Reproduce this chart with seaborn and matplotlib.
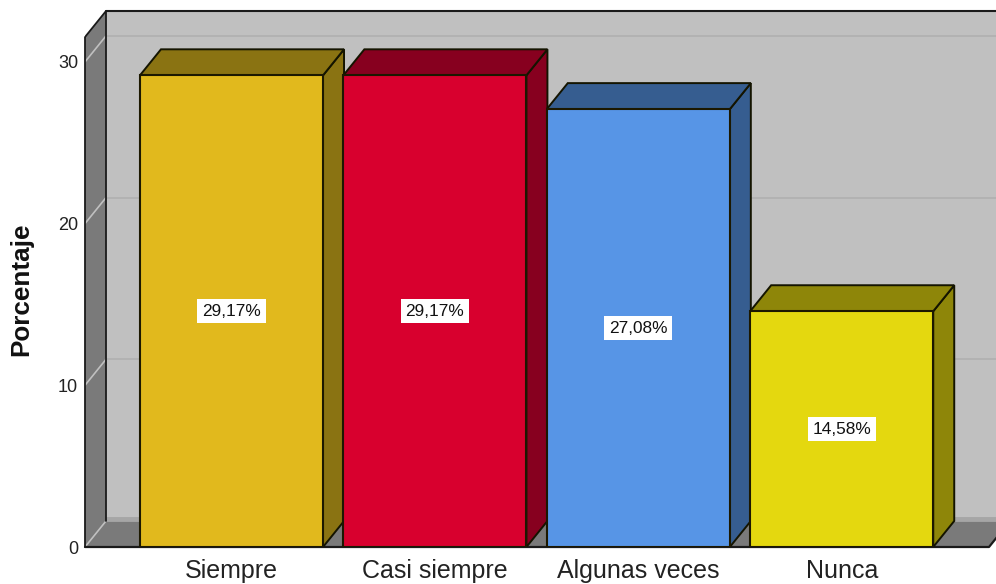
import matplotlib
matplotlib.use("Agg")
import matplotlib.pyplot as plt
from matplotlib.patches import Polygon
import pandas as pd
import seaborn as sns

categories = ["Siempre", "Casi siempre", "Algunas veces", "Nunca"]
percentages = [29.17, 29.17, 27.08, 14.58]
value_labels = ["29,17%", "29,17%", "27,08%", "14,58%"]
y_ticks = [0, 10, 20, 30]
front_colors = ["#e1b91d", "#d8002e", "#5795e6", "#e4d80f"]
shade_colors = ["#8a7312", "#87001f", "#365d90", "#8e8609"]
y_label = "Porcentaje"

sns.set_theme(style="white")
plt.rcParams["font.family"] = ["Liberation Sans", "DejaVu Sans"]

W, H = 996, 584
fig = plt.figure(figsize=(W / 100, H / 100), dpi=100, facecolor="white")
ax = fig.add_axes([85 / W, (H - 547) / H, 911 / W, 547 / H])

df = pd.DataFrame({"categoria": categories, "porcentaje": percentages})
sns.barplot(data=df, x="categoria", y="porcentaje", hue="categoria", palette=front_colors,
            width=0.9, dodge=False, legend=False, ax=ax, saturation=1,
            edgecolor="#1c1800", linewidth=1.5, zorder=4)

px_x = 203.4
px_y = 16.17
ax.set_xlim(-(231.5 - 85) / px_x, (996 - 231.5) / px_x)
ax.set_ylim(0, 547 / px_y)
dx = 21 / px_x
dy = 26 / px_y
x0 = ax.get_xlim()[0]
x_end = x0 + (989 - 85) / px_x
y_top = (547 - 37) / px_y
edge = "#1a1a1a"


def poly(points, face, z, ec="none", lw=0.0):
    ax.add_patch(Polygon(points, closed=True, facecolor=face, edgecolor=ec, linewidth=lw,
                         zorder=z, joinstyle="miter"))


# back wall, left wall, floor
poly([(x0 + dx, dy), (x0 + dx + 10, dy), (x0 + dx + 10, y_top + dy), (x0 + dx, y_top + dy)], "#c0c0c0", 0.5)
poly([(x0, 0), (x0 + dx, dy), (x0 + dx, y_top + dy), (x0, y_top)], "#7a7a7a", 0.6)
poly([(x0, 0), (x_end, 0), (x_end + dx, dy), (x0 + dx, dy)], "#7a7a7a", 0.6)
ax.plot([x0 + dx, x0 + dx + 10], [dy + 0.13, dy + 0.13], color="#a6a6a6", lw=3.5, zorder=0.7,
        solid_capstyle="butt")

for v in y_ticks[1:]:
    ax.plot([x0 + dx, x0 + dx + 10], [v + dy, v + dy], color="#b0b0b0", lw=1.2, zorder=0.7)
for v in y_ticks:
    ax.plot([x0, x0 + dx], [v, v + dy], color="#c0c0c0", lw=1.2, zorder=0.8)

# frame lines
ax.plot([x0 + dx, x0 + dx + 10], [y_top + dy, y_top + dy], color=edge, lw=1.5, zorder=1)
ax.plot([x0, x0 + dx, x0 + dx], [y_top, y_top + dy, dy], color=edge, lw=1.3, zorder=1)
ax.plot([x0, x0], [0, y_top], color=edge, lw=1.3, zorder=1, clip_on=False)
ax.plot([x0, x_end, x_end + dx], [0, 0, dy], color=edge, lw=1.6, zorder=1, clip_on=False)

# bars: extruded side and top faces built from the seaborn bars
bars = [p for p in ax.patches if p.get_zorder() == 4]
for bar, shade, lab in zip(bars, shade_colors, value_labels):
    bx, bw, bh = bar.get_x(), bar.get_width(), bar.get_height()
    poly([(bx + bw, 0), (bx + bw + dx, dy), (bx + bw + dx, bh + dy), (bx + bw, bh)], shade, 3,
         ec="#141400", lw=1.4)
    poly([(bx, bh), (bx + dx, bh + dy), (bx + bw + dx, bh + dy), (bx + bw, bh)], shade, 3,
         ec="#141400", lw=1.4)
    ax.text(bx + bw / 2, bh / 2, lab, ha="center", va="center", fontsize=12.4, color="#111111", zorder=6,
            bbox=dict(boxstyle="square,pad=0.27", facecolor="white", edgecolor="none"))

sns.despine(ax=ax, left=True, bottom=True, top=True, right=True)
ax.set_yticks(y_ticks)
ax.set_xlabel("")
ax.set_ylabel(y_label, fontsize=18.8, fontweight="bold", color="#111111")
ax.yaxis.set_label_coords((33 - 85) / 911, 1 - 289 / 547)
ax.tick_params(axis="y", length=0, pad=5, labelsize=13, labelcolor="#222222")
ax.tick_params(axis="x", length=0, pad=8.5, labelsize=18, labelcolor="#222222")

fig.savefig("out.png", dpi=100, facecolor="white")
